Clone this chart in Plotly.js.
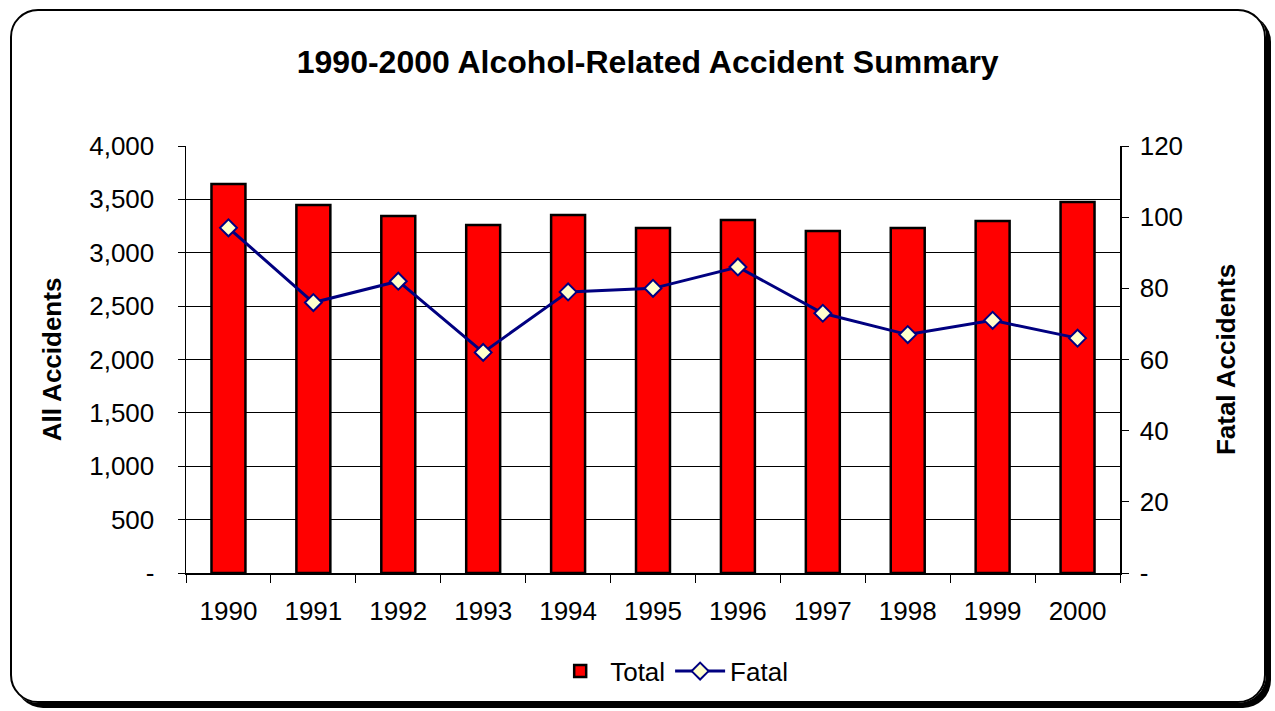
<!DOCTYPE html>
<html>
<head>
<meta charset="utf-8">
<script src="https://cdn.plot.ly/plotly-3.0.1.min.js"></script>
<style>
  body { margin: 0; background: #fff; }
  #wrap { position: relative; width: 1275px; height: 711px; }
  #chart { width: 1275px; height: 711px; }
  /* rounded frame with shadow, like the old spreadsheet chart border */
  #frame {
    position: absolute; left: 10px; top: 9px; width: 1252px; height: 690px;
    border: 2px solid #000; border-radius: 28px;
    box-shadow: 5px 5px 0 #000; pointer-events: none;
  }
</style>
</head>
<body>
<div id="wrap">
  <div id="chart"></div>
  <div id="frame"></div>
</div>
<script>
// data
var years = ["1990", "1991", "1992", "1993", "1994", "1995", "1996", "1997", "1998", "1999", "2000"];
var totalAccidents = [3644, 3447, 3344, 3260, 3354, 3232, 3307, 3204, 3232, 3297, 3475];
var fatalAccidents = [97, 76, 82, 62, 79, 80, 86, 73, 67, 71, 66];

var leftTicks = [0, 500, 1000, 1500, 2000, 2500, 3000, 3500, 4000];
var leftLabels = ["-", "500", "1,000", "1,500", "2,000", "2,500", "3,000", "3,500", "4,000"];
var rightTicks = [0, 20, 40, 60, 80, 100, 120];
var rightLabels = ["-", "20", "40", "60", "80", "100", "120"];

var fontFamily = "'Liberation Sans', Arial, sans-serif";

var traces = [
  {
    x: years,
    y: totalAccidents,
    name: "Total",
    type: "bar",
    marker: { color: "#ff0000", line: { color: "#000", width: 2.5 } }
  },
  {
    x: years,
    y: fatalAccidents,
    name: "Fatal",
    type: "scatter",
    mode: "lines+markers",
    yaxis: "y2",
    line: { color: "#000080", width: 3 },
    marker: { symbol: "diamond", size: 13, color: "#ffffcc", line: { color: "#000080", width: 2 } }
  }
];

var layout = {
  width: 1275,
  height: 711,
  margin: { l: 186, r: 155, t: 146, b: 138 },
  paper_bgcolor: "#fff",
  plot_bgcolor: "#fff",
  font: { family: fontFamily, size: 26, color: "#000" },
  title: {
    text: "<b>1990-2000 Alcohol-Related Accident Summary</b>",
    font: { size: 32 },
    x: 0.508, xanchor: "center",
    y: 0.913, yanchor: "middle"
  },
  bargap: 0.6,
  showlegend: true,
  legend: {
    orientation: "h",
    x: 0.52, xanchor: "center",
    y: -0.23, yanchor: "middle",
    itemwidth: 50,
    font: { size: 26 }
  },
  xaxis: {
    type: "category",
    range: [-0.5, 10.5],
    showline: true, linecolor: "#000", linewidth: 1.5,
    ticks: "outside", ticklen: 8, tickcolor: "#000", tickson: "boundaries",
    ticklabelstandoff: 14,
    showgrid: false
  },
  yaxis: {
    title: { text: "<b>All Accidents</b>", font: { size: 26 }, standoff: 20 },
    range: [0, 4000],
    tickvals: leftTicks, ticktext: leftLabels,
    showline: true, linecolor: "#000", linewidth: 1.5,
    ticks: "outside", ticklen: 7, tickcolor: "#000",
    ticklabelstandoff: 18,
    showgrid: true, gridcolor: "#000", gridwidth: 1,
    zeroline: false
  },
  yaxis2: {
    title: { text: "<b>Fatal Accidents</b>", font: { size: 26 }, standoff: 34 },
    overlaying: "y", side: "right",
    range: [0, 120],
    tickvals: rightTicks, ticktext: rightLabels,
    showline: true, linecolor: "#000", linewidth: 1.5,
    ticks: "outside", ticklen: 7, tickcolor: "#000",
    ticklabelstandoff: 6,
    showgrid: false, zeroline: false
  }
};

Plotly.newPlot("chart", traces, layout, { displayModeBar: false, staticPlot: true });
</script>
</body>
</html>
